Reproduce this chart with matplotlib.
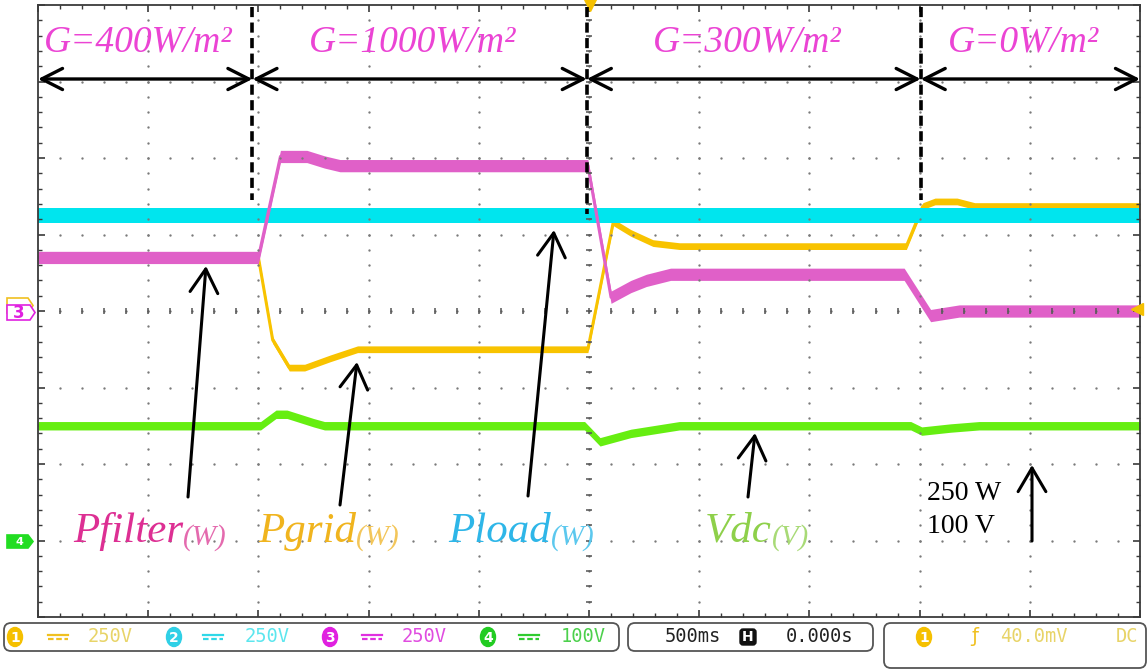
import numpy as np
import matplotlib
matplotlib.use("Agg")
import matplotlib.pyplot as plt
from matplotlib.patches import FancyBboxPatch, Polygon, Ellipse
from matplotlib.lines import Line2D
from matplotlib.ticker import MultipleLocator

# ---- recorded waveforms: time in s, power in W, voltage in V ----
t_filter = [0.0, 1.00, 1.10, 1.22, 1.30, 1.37, 2.495, 2.60, 2.69, 2.76, 2.87, 3.93, 4.05, 4.18, 5.0]
p_filter = [175, 175, 505, 505, 487, 475, 475, 45, 80, 100, 120, 120, -15, 0, 0]

t_grid = [0.0, 1.00, 1.065, 1.14, 1.21, 1.325, 1.45, 2.495, 2.61, 2.69, 2.79, 2.91, 3.94,
          4.015, 4.07, 4.17, 4.25, 5.0]
p_grid = [175, 175, -95, -185, -185, -155, -125, -125, 290, 255, 222, 212, 212,
          343, 358, 358, 343, 343]

t_load = [0.0, 5.0]
p_load = [312, 312]

t_vdc = [0.0, 1.01, 1.08, 1.13, 1.25, 1.30, 2.48, 2.55, 2.69, 2.91, 3.96, 4.01, 4.14, 4.27, 5.0]
v_dc = [150, 150, 165, 165, 154, 150, 150, 129, 140, 150, 150, 143, 147, 150, 150]

# switching ripple (half band width)
ripple_filter = 20
ripple_grid = 11
ripple_load = 24
ripple_vdc = 5.5

# irradiance steps
g_labels = ["G=400W/m²", "G=1000W/m²", "G=300W/m²", "G=0W/m²"]
g_edges = [0.0, 0.973, 2.49, 4.005, 5.0]

# scope settings
volts_per_div = {"P": 250, "V": 100}
channel_labels = ["250V", "250V", "250V", "100V"]
timebase = "500ms"
delay = "0.000s"
trigger_level = "40.0mV"

# ---- figure ----
W, H = 1148, 671
fig = plt.figure(figsize=(W / 100, H / 100), dpi=100)
fig.patch.set_facecolor("white")
L, R, T, B = 38, 1140, 5, 617
ax = fig.add_axes([L / W, (H - B) / H, (R - L) / W, (B - T) / H])
axp = ax.twinx()
axv = ax.twinx()
for a, z in ((axp, 1), (axv, 2)):
    a.set_zorder(z)
    a.axis("off")
ax.set_zorder(3)
ax.patch.set_visible(False)

ax.set_xlim(0, 5)
ax.set_ylim(0, 8)
axp.set_ylim(-4 * volts_per_div["P"], 4 * volts_per_div["P"])
axv.set_ylim(-1 * volts_per_div["V"], 7 * volts_per_div["V"])

YEL, CYA, MAG, GRN = "#F8C300", "#00E5EE", "#E060C8", "#66EE11"


def trace(axis, t, v, r, color, z):
    t = np.asarray(t, float)
    v = np.asarray(v, float)
    axis.fill_between(t, v - r, v + r, color=color, lw=0, zorder=z)
    axis.plot(t, v, color=color, lw=2.2, zorder=z, solid_joinstyle="round")


trace(axp, t_grid, p_grid, ripple_grid, YEL, 2)
trace(axp, t_load, p_load, ripple_load, CYA, 3)
trace(axp, t_filter, p_filter, ripple_filter, MAG, 4)
trace(axv, t_vdc, v_dc, ripple_vdc, GRN, 2)

# ---- graticule ----
for s in ax.spines.values():
    s.set_color("#3a3a3a")
    s.set_linewidth(1.3)
ax.xaxis.set_major_locator(MultipleLocator(0.5))
ax.xaxis.set_minor_locator(MultipleLocator(0.1))
ax.yaxis.set_major_locator(MultipleLocator(1))
ax.yaxis.set_minor_locator(MultipleLocator(0.2))
ax.tick_params(which="both", direction="in", top=True, right=True, color="#3a3a3a",
               labelbottom=False, labelleft=False)
ax.tick_params(which="major", length=5, width=1.2)
ax.tick_params(which="minor", length=3, width=1.0)

xmaj = np.arange(1, 10) * 0.5
ymaj = np.arange(1, 8)
xmin = np.arange(1, 50) * 0.1
ymin = np.arange(1, 40) * 0.2
gx, gy = np.meshgrid(xmaj, ymin)
ax.plot(gx.ravel(), gy.ravel(), ls="none", marker="o", ms=1.7, mew=0, color="#7a7a7a")
gx, gy = np.meshgrid(xmin, ymaj)
ax.plot(gx.ravel(), gy.ravel(), ls="none", marker="o", ms=1.7, mew=0, color="#7a7a7a")
ax.plot(xmin, np.full_like(xmin, 4.0), ls="none", marker="|", ms=4, mew=1.1, color="#555555")
ax.plot(np.full_like(ymin, 2.5), ymin, ls="none", marker="_", ms=5, mew=1.1, color="#555555")

# trigger markers
ax.plot([2.505], [8.0], marker="v", ms=9, color="#F5C000", clip_on=False, zorder=6)
ax.plot([4.985], [4.03], marker="<", ms=9, color="#F5C000", clip_on=False, zorder=6)


def p2d(x, y):
    return ((x - L) / ((R - L) / 5), (B - y) / ((B - T) / 8))


SERIF = "Liberation Serif"

# ---- irradiance annotations ----
for i, lab in enumerate(g_labels):
    a, b = g_edges[i], g_edges[i + 1]
    ax.text((a + b) / 2 - 0.03, p2d(0, 51)[1], lab, ha="center", va="baseline",
            fontsize=27, style="italic", family=SERIF, color="#EB44D4", zorder=7)
    ax.annotate("", xy=(b, p2d(0, 79)[1]), xytext=(a, p2d(0, 79)[1]),
                arrowprops=dict(arrowstyle="<->,head_length=0.75,head_width=0.38",
                                lw=2.4, color="black", shrinkA=0, shrinkB=0,
                                mutation_scale=20), zorder=7)

dash_bottoms = [p2d(0, 200)[1], p2d(0, 214)[1], p2d(0, 200)[1]]
for xe, yb in zip(g_edges[1:4], dash_bottoms):
    ax.plot([xe, xe], [7.97, yb], color="black", lw=2.6, ls=(0, (2.8, 1.5)), zorder=7)

# ---- trace labels ----
labels = [
    ("Pfilter", "(W)", 73, "#DD2F93", "#E46AAE"),
    ("Pgrid", "(W)", 258, "#F0B41E", "#F3C65A"),
    ("Pload", "(W)", 448, "#2EB6E8", "#5CC8EE"),
    ("Vdc", "(V)", 705, "#8ED04A", "#A8DA76"),
]
for main, unit, x0, c1, c2 in labels:
    tx = ax.text(*p2d(x0, 542), main, ha="left", va="baseline", fontsize=31,
                 style="italic", family=SERIF, color=c1, zorder=7)
    ax.annotate(unit, xy=(1.0, 0.0), xycoords=tx, ha="left", va="bottom",
                fontsize=21, style="italic", family=SERIF, color=c2, zorder=7)

pointers = [((188, 497), (206, 266)), ((340, 505), (357, 362)),
            ((528, 496), (554, 230)), ((748, 497), (755, 433)),
            ((1032, 541), (1032, 465))]
for (xa, ya), (xb, yb) in pointers:
    ax.annotate("", xy=p2d(xb, yb), xytext=p2d(xa, ya),
                arrowprops=dict(arrowstyle="->,head_length=0.85,head_width=0.5",
                                lw=2.2, color="black", shrinkA=0, shrinkB=0,
                                mutation_scale=20), zorder=7)

ax.text(*p2d(927, 500), "250 W", ha="left", va="baseline", fontsize=20,
        family=SERIF, color="black", zorder=7)
ax.text(*p2d(927, 533), "100 V", ha="left", va="baseline", fontsize=20,
        family=SERIF, color="black", zorder=7)


# ---- channel ground markers ----
def fpt(x, y):
    return (x / W, 1 - y / H)


def pent(x0, x1, y0, y1, fc, ec, lw=1.2, z=5):
    ym = (y0 + y1) / 2
    pts = [fpt(x0, y0), fpt(x1 - 5, y0), fpt(x1, ym), fpt(x1 - 5, y1), fpt(x0, y1)]
    fig.add_artist(Polygon(pts, closed=True, fc=fc, ec=ec, lw=lw,
                           transform=fig.transFigure, zorder=z))


pent(7, 33, 298, 313, "white", "#F0C020", z=4)
pent(7, 35, 305, 320, "white", "#E020E0", z=5)
fig.text(*fpt(19, 313), "3", ha="center", va="center", fontsize=12, color="#E020E0",
         fontweight="bold", zorder=6)
pent(7, 33, 535, 548, "#22DD22", "#22DD22", z=5)
fig.text(*fpt(19, 542), "4", ha="center", va="center", fontsize=8, color="white",
         fontweight="bold", zorder=6)


# ---- status bar ----
def inch(x, y):
    return (x / 100, (H - y) / 100)


def rbox(x0, y0, x1, y1, r=7):
    p = FancyBboxPatch(inch(x0, y1), (x1 - x0) / 100, (y1 - y0) / 100,
                       boxstyle=f"round,pad=0,rounding_size={r / 100}",
                       transform=fig.dpi_scale_trans, fc="white", ec="#555555", lw=1.3)
    fig.add_artist(p)


def badge(x, y, num, color):
    fig.add_artist(Ellipse(inch(x, y), 0.15, 0.19, transform=fig.dpi_scale_trans,
                           fc=color, ec=color))
    fig.text(*fpt(x, y + 0.5), num, ha="center", va="center", fontsize=10,
             color="white", fontweight="bold")


def dc_symbol(x, y, color):
    fig.add_artist(Line2D([x / W, (x + 20) / W], [1 - (y - 2) / H] * 2,
                          transform=fig.transFigure, color=color, lw=1.6))
    fig.add_artist(Line2D([x / W, (x + 20) / W], [1 - (y + 2) / H] * 2,
                          transform=fig.transFigure, color=color, lw=1.6,
                          ls=(0, (2.5, 1.2))))


MONO = "DejaVu Sans Mono"
rbox(4, 623, 619, 651)
rbox(628, 623, 873, 651)
rbox(884, 623, 1146, 668)

ycen = 637
chan_items = [
    ("1", 15, 48, 88, "#F5C000", "#F0C020", "#E8D468"),
    ("2", 174, 203, 245, "#30D0E6", "#30D8E8", "#5CE6EE"),
    ("3", 330, 362, 402, "#E020E0", "#E030E0", "#E04CE0"),
    ("4", 488, 519, 561, "#22CC22", "#30CC30", "#4CD04C"),
]
for (num, xc, xs, xt, cb, cs, ctxt), lab in zip(chan_items, channel_labels):
    badge(xc, ycen, num, cb)
    dc_symbol(xs, ycen, cs)
    fig.text(*fpt(xt, ycen), lab, ha="left", va="center", fontsize=13.5,
             family=MONO, color=ctxt)

fig.text(*fpt(665, ycen), timebase, ha="left", va="center", fontsize=13.5,
         family=MONO, color="#222222")
fig.add_artist(FancyBboxPatch(inch(740, 645), 0.16, 0.16,
                              boxstyle="round,pad=0,rounding_size=0.03",
                              transform=fig.dpi_scale_trans, fc="#111111", ec="#111111"))
fig.text(*fpt(748, ycen), "H", ha="center", va="center", fontsize=10,
         fontweight="bold", color="white")
fig.text(*fpt(786, ycen), delay, ha="left", va="center", fontsize=13.5,
         family=MONO, color="#222222")

badge(924, ycen, "1", "#F5C000")
fig.text(*fpt(975, ycen), "ƒ", ha="center", va="center", fontsize=14,
         color="#F0C020")
fig.text(*fpt(1000, ycen), trigger_level, ha="left", va="center", fontsize=13.5,
         family=MONO, color="#E8D468")
fig.text(*fpt(1116, ycen), "DC", ha="left", va="center", fontsize=13.5,
         family=MONO, color="#E8D468")

fig.savefig("out.png", dpi=100)
